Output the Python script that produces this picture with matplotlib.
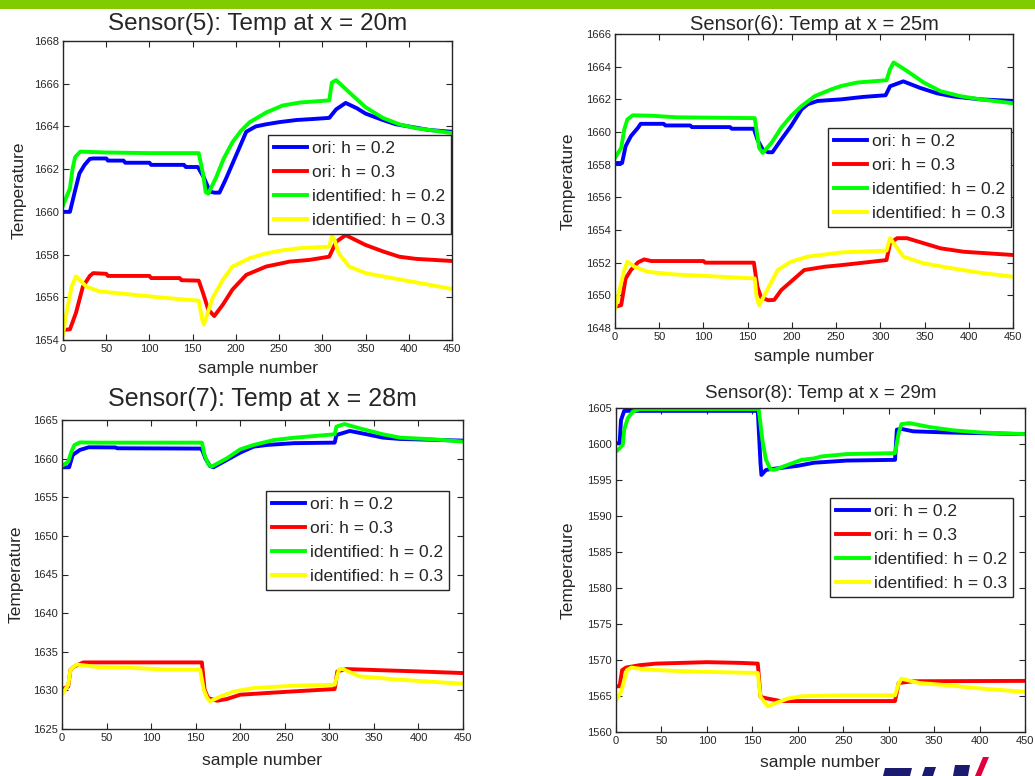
import matplotlib.pyplot as plt
from matplotlib.patches import Rectangle, Polygon

plt.rcParams['font.family'] = ['Liberation Sans', 'DejaVu Sans']

W, H = 1035, 776

x_ticks = [0, 50, 100, 150, 200, 250, 300, 350, 400, 450]
legend_labels = ['ori: h = 0.2', 'ori: h = 0.3', 'identified: h = 0.2', 'identified: h = 0.3']
line_colors = ['#0000ff', '#ff0000', '#00ff00', '#ffff00']

# ---- Sensor(5): x = 20m ----
s5_ori02_x = [0, 8, 14, 19, 25, 31, 35, 50, 52, 70, 72, 100, 102, 140, 142, 156, 163, 170, 175, 181, 188, 196,
              204, 212, 223, 235, 250, 270, 290, 308, 312, 316, 327, 340, 350, 370, 385, 400, 424, 450]
s5_ori02_y = [1660.0, 1660.0, 1661.0, 1661.8, 1662.2, 1662.48, 1662.5, 1662.5, 1662.4, 1662.4, 1662.3, 1662.3,
              1662.2, 1662.2, 1662.1, 1662.1, 1661.6, 1660.95, 1660.9, 1660.9, 1661.5, 1662.25, 1663.0, 1663.75,
              1664.0, 1664.1, 1664.2, 1664.3, 1664.35, 1664.4, 1664.6, 1664.8, 1665.1, 1664.85, 1664.6, 1664.3,
              1664.1, 1664.0, 1663.83, 1663.75]
s5_ori03_x = [0, 8, 15, 23, 31, 35, 50, 52, 100, 102, 135, 137, 157, 162, 168, 175, 185, 196, 212, 235, 254, 262,
              285, 308, 316, 327, 350, 370, 389, 408, 450]
s5_ori03_y = [1654.47, 1654.5, 1655.27, 1656.5, 1657.0, 1657.13, 1657.1, 1657.0, 1657.0, 1656.9, 1656.9, 1656.8,
              1656.78, 1656.2, 1655.43, 1655.12, 1655.66, 1656.36, 1657.05, 1657.44, 1657.6, 1657.67, 1657.75,
              1657.9, 1658.6, 1658.91, 1658.45, 1658.15, 1657.9, 1657.8, 1657.7]
s5_id02_x = [0, 8, 11, 14, 20, 50, 100, 157, 162, 165, 168, 177, 186, 196, 206, 216, 235, 254, 274, 308, 311, 316,
             331, 350, 370, 389, 408, 430, 450]
s5_id02_y = [1660.3, 1661.1, 1662.0, 1662.56, 1662.82, 1662.78, 1662.75, 1662.75, 1661.78, 1660.93, 1660.85,
             1661.6, 1662.5, 1663.26, 1663.8, 1664.2, 1664.65, 1664.98, 1665.12, 1665.22, 1666.05, 1666.17, 1665.6,
             1664.9, 1664.4, 1664.1, 1663.92, 1663.8, 1663.69]
s5_id03_x = [0, 4, 10, 15, 27, 42, 81, 119, 157, 161, 163, 173, 185, 196, 216, 235, 254, 274, 292, 308, 311, 314,
             319, 331, 350, 370, 408, 450]
s5_id03_y = [1654.26, 1655.27, 1656.5, 1656.98, 1656.5, 1656.28, 1656.12, 1655.97, 1655.84, 1654.96, 1654.73,
             1655.97, 1656.82, 1657.44, 1657.83, 1658.06, 1658.2, 1658.3, 1658.34, 1658.37, 1658.87, 1658.7,
             1658.06, 1657.44, 1657.13, 1656.98, 1656.7, 1656.39]

# ---- Sensor(6): x = 25m ----
s6_ori02_x = [0, 8, 12, 18, 26, 29, 55, 57, 85, 87, 130, 132, 157, 161, 167, 173, 178, 188, 199, 211, 218, 229,
              256, 281, 306, 311, 326, 345, 364, 383, 413, 450]
s6_ori02_y = [1658.1, 1658.1, 1659.13, 1659.75, 1660.26, 1660.5, 1660.5, 1660.4, 1660.4, 1660.3, 1660.3, 1660.2,
              1660.2, 1659.54, 1658.93, 1658.76, 1658.76, 1659.54, 1660.36, 1661.39, 1661.7, 1661.9, 1662.0,
              1662.15, 1662.25, 1662.8, 1663.1, 1662.7, 1662.37, 1662.17, 1662.0, 1661.9]
s6_ori03_x = [0, 7, 12, 18, 26, 33, 41, 100, 102, 157, 161, 165, 173, 180, 188, 203, 214, 237, 256, 281, 307, 311,
              319, 330, 349, 368, 394, 450]
s6_ori03_y = [1649.29, 1649.4, 1651.03, 1651.55, 1652.02, 1652.2, 1652.1, 1652.1, 1652.0, 1652.0, 1650.52,
              1649.9, 1649.7, 1649.72, 1650.32, 1651.03, 1651.55, 1651.75, 1651.85, 1652.0, 1652.16, 1653.19,
              1653.5, 1653.5, 1653.19, 1652.88, 1652.67, 1652.47]
s6_id02_x = [0, 7, 10.5, 14, 20, 40, 70, 157, 158, 161, 163, 167, 177, 188, 199, 211, 226, 245, 256, 274, 307,
             311, 315, 330, 349, 368, 390, 413, 450]
s6_id02_y = [1658.41, 1659.03, 1660.16, 1660.77, 1661.02, 1661.0, 1660.9, 1660.85, 1660.85, 1659.75, 1659.03,
             1658.72, 1659.34, 1660.26, 1660.98, 1661.59, 1662.2, 1662.62, 1662.82, 1663.03, 1663.17, 1663.85,
             1664.26, 1663.74, 1663.03, 1662.5, 1662.2, 1662.0, 1661.76]
s6_id03_x = [0, 5, 10.5, 14, 22, 37, 67, 105, 158, 160, 163, 173, 184, 199, 218, 256, 307, 311, 315, 326, 349,
             375, 413, 450]
s6_id03_y = [1649.19, 1650.32, 1651.55, 1652.06, 1651.75, 1651.44, 1651.28, 1651.18, 1651.03, 1649.9, 1649.39,
             1650.42, 1651.55, 1652.06, 1652.37, 1652.63, 1652.74, 1653.5, 1653.2, 1652.37, 1651.96, 1651.71,
             1651.38, 1651.14]

# ---- Sensor(7): x = 28m ----
s7_ori02_x = [0, 8, 12, 20, 30, 60, 62, 155, 157, 161, 166, 170, 185, 200, 215, 230, 247, 260, 306, 308, 323,
              342, 360, 379, 450]
s7_ori02_y = [1658.88, 1658.88, 1660.47, 1661.12, 1661.47, 1661.45, 1661.34, 1661.3, 1661.2, 1660.0, 1659.05,
              1658.88, 1659.83, 1660.78, 1661.55, 1661.77, 1661.9, 1662.0, 1662.07, 1663.06, 1663.58, 1663.15,
              1662.72, 1662.55, 1662.33]
s7_ori03_x = [0, 7, 9.5, 14, 24, 157, 160, 164, 174, 185, 200, 230, 260, 306, 309, 319, 360, 398, 450]
s7_ori03_y = [1630.17, 1630.5, 1632.67, 1633.1, 1633.62, 1633.62, 1630.1, 1629.0, 1628.66, 1628.88, 1629.44,
              1629.66, 1629.87, 1630.17, 1632.46, 1632.76, 1632.6, 1632.46, 1632.24]
s7_id02_x = [0, 7, 10.5, 14, 20, 40, 157, 160, 164, 168, 185, 200, 215, 238, 260, 306, 308, 317, 334, 360, 379,
             417, 450]
s7_id02_y = [1659.05, 1659.6, 1660.9, 1661.77, 1662.1, 1662.07, 1662.07, 1660.47, 1659.3, 1658.97, 1660.04,
             1661.2, 1661.77, 1662.41, 1662.7, 1663.15, 1664.14, 1664.48, 1663.92, 1663.15, 1662.72, 1662.5,
             1662.2]
s7_id03_x = [0, 7, 9.5, 16, 42, 80, 117, 155, 159, 163, 166, 178, 193, 215, 260, 306, 311, 315, 334, 379, 450]
s7_id03_y = [1629.44, 1630.73, 1632.67, 1633.35, 1633.0, 1632.9, 1632.7, 1632.67, 1630.1, 1629.0, 1628.58,
             1629.22, 1629.87, 1630.3, 1630.6, 1630.73, 1632.76, 1632.76, 1631.81, 1631.38, 1630.86]

# ---- Sensor(8): x = 29m ----
s8_ori02_x = [0, 4, 5.5, 9, 156, 159, 160, 165, 170, 200, 218, 230, 254, 307, 309, 314, 327, 364, 450]
s8_ori02_y = [1600.1, 1600.1, 1603.3, 1604.6, 1604.6, 1597.3, 1595.7, 1596.4, 1596.5, 1596.97, 1597.4, 1597.5,
              1597.7, 1597.8, 1602.0, 1602.1, 1601.76, 1601.6, 1601.37]
s8_ori03_x = [0, 4, 6.7, 11, 26, 44, 100, 137, 156, 159, 167, 181, 307, 311, 327, 450]
s8_ori03_y = [1566.35, 1566.35, 1568.58, 1568.95, 1569.28, 1569.5, 1569.7, 1569.6, 1569.5, 1564.87, 1564.64,
              1564.3, 1564.3, 1566.8, 1567.05, 1567.1]
s8_id02_x = [0, 4, 7.5, 9, 13, 18.5, 26, 157, 161, 165, 170, 174, 189, 204, 218, 226, 254, 307, 311, 314, 323,
             345, 371, 401, 450]
s8_id02_y = [1598.96, 1599.4, 1599.9, 1602.0, 1603.6, 1604.5, 1604.85, 1604.85, 1600.6, 1597.8, 1596.5, 1596.4,
             1597.1, 1597.8, 1598.0, 1598.27, 1598.6, 1598.73, 1601.5, 1602.76, 1602.9, 1602.35, 1601.9, 1601.6,
             1601.37]
s8_id03_x = [0, 5.5, 8, 12, 17, 33, 63, 100, 156, 159, 167, 174, 189, 204, 248, 307, 311, 314, 334, 364, 401, 450]
s8_id03_y = [1564.4, 1565.57, 1566.7, 1568.6, 1568.95, 1568.67, 1568.5, 1568.35, 1568.2, 1564.87, 1563.57,
             1563.94, 1564.64, 1564.96, 1565.1, 1565.1, 1566.7, 1567.4, 1566.8, 1566.5, 1566.05, 1565.57]

# layout of the four panels, in pixels of the 1035x776 page
panels = [
    dict(title='Sensor(5): Temp at x = 20m', tsize=17.5, ty=24, box=(63, 41, 452, 340),
         ylim=(1654, 1668), ystep=2, leg=(451, 135), xl_y=369, yl_x=19,
         series=[(s5_ori02_x, s5_ori02_y), (s5_ori03_x, s5_ori03_y), (s5_id02_x, s5_id02_y), (s5_id03_x, s5_id03_y)]),
    dict(title='Sensor(6): Temp at x = 25m', tsize=14.5, ty=24, box=(615, 34, 1013, 328),
         ylim=(1648, 1666), ystep=2, leg=(1011, 128), xl_y=356, yl_x=568,
         series=[(s6_ori02_x, s6_ori02_y), (s6_ori03_x, s6_ori03_y), (s6_id02_x, s6_id02_y), (s6_id03_x, s6_id03_y)]),
    dict(title='Sensor(7): Temp at x = 28m', tsize=18, ty=399, box=(62, 420, 463, 729),
         ylim=(1625, 1665), ystep=5, leg=(449, 491), xl_y=760, yl_x=16,
         series=[(s7_ori02_x, s7_ori02_y), (s7_ori03_x, s7_ori03_y), (s7_id02_x, s7_id02_y), (s7_id03_x, s7_id03_y)]),
    dict(title='Sensor(8): Temp at x = 29m', tsize=13.5, ty=393, box=(616, 408, 1025, 732),
         ylim=(1560, 1605), ystep=5, leg=(1013, 498), xl_y=762, yl_x=568,
         series=[(s8_ori02_x, s8_ori02_y), (s8_ori03_x, s8_ori03_y), (s8_id02_x, s8_id02_y), (s8_id03_x, s8_id03_y)]),
]

fig = plt.figure(figsize=(W / 100, H / 100), dpi=100)

# green header strip
fig.patches.append(Rectangle((0, 1 - 9 / H), 1, 9 / H, transform=fig.transFigure,
                             facecolor='#80cc00', edgecolor='none'))

ink = '#262626'
for p in panels:
    x0, y0, x1, y1 = p['box']
    ax = fig.add_axes([x0 / W, 1 - y1 / H, (x1 - x0) / W, (y1 - y0) / H])
    for (xs, ys), col, lab in zip(p['series'], line_colors, legend_labels):
        ax.plot(xs, ys, color=col, lw=2.8, label=lab, solid_joinstyle='round')

    lo, hi = p['ylim']
    ax.set_xlim(0, 450)
    ax.set_ylim(lo, hi)
    ax.set_xticks(x_ticks)
    ax.set_yticks(list(range(lo, hi + 1, p['ystep'])))
    ax.tick_params(direction='in', length=4, width=0.8, top=True, right=True,
                   labelsize=8, colors=ink, pad=3)
    for s in ax.spines.values():
        s.set_color(ink)
        s.set_linewidth(1.0)

    fig.text((x0 + x1) / 2 / W, 1 - p['ty'] / H, p['title'], ha='center', va='center',
             fontsize=p['tsize'], color=ink)
    ax.set_xlabel('sample number', fontsize=12.5, color=ink, va='center')
    ax.xaxis.set_label_coords(0.5, (y1 - p['xl_y']) / (y1 - y0))
    ax.set_ylabel('Temperature', fontsize=12.5, color=ink, va='center')
    ax.yaxis.set_label_coords((p['yl_x'] - x0) / (x1 - x0), 0.5)

    lx, ly = p['leg']
    leg = ax.legend(loc='upper right', bbox_to_anchor=((lx - x0) / (x1 - x0), (y1 - ly) / (y1 - y0)),
                    fontsize=12.5, handlelength=1.9, handletextpad=0.3, labelspacing=0.5,
                    borderpad=0.35, borderaxespad=0, fancybox=False, framealpha=1)
    leg.get_frame().set_edgecolor(ink)
    leg.get_frame().set_linewidth(1.0)
    for t in leg.get_texts():
        t.set_color(ink)

# corner logo fragment
fig.patches.append(Polygon([(883 / W, 0), (910 / W, 0), (912 / W, 8 / H), (885 / W, 8 / H)],
                           transform=fig.transFigure, facecolor='#1a1a6e', edgecolor='none'))
fig.patches.append(Polygon([(922 / W, 0), (933 / W, 0), (936 / W, 9 / H), (925 / W, 9 / H)],
                           transform=fig.transFigure, facecolor='#1a1a6e', edgecolor='none'))
fig.patches.append(Polygon([(953 / W, 0), (968 / W, 0), (970 / W, 11 / H), (955 / W, 11 / H)],
                           transform=fig.transFigure, facecolor='#1a1a6e', edgecolor='none'))
fig.patches.append(Polygon([(975 / W, 0), (981 / W, 0), (989 / W, 19 / H), (983 / W, 19 / H)],
                           transform=fig.transFigure, facecolor='#e0003c', edgecolor='none'))

fig.savefig('out.png', dpi=100)
